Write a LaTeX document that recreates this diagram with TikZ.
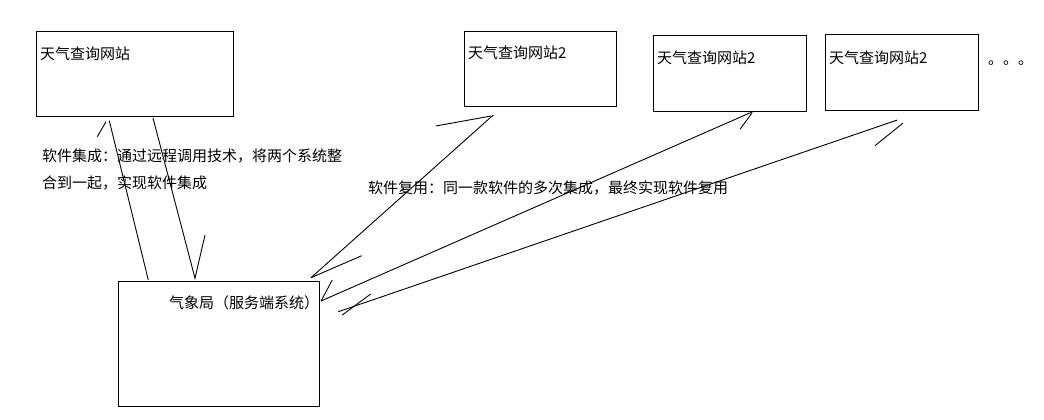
\documentclass[tikz,border=0pt]{standalone}
\usepackage{fontspec}
\newfontfamily\cjk{Noto Sans CJK SC}
\begin{document}
\begin{tikzpicture}[x=1pt,y=-1pt,
  box/.style={draw=black,line width=1pt,rectangle,inner sep=0pt},
  lbl/.style={anchor=west,inner sep=0pt,font=\cjk\fontsize{15}{15}\selectfont,text=black},
  ln/.style={draw=black,line width=0.9pt}]
\useasboundingbox[fill=white] (0,0) rectangle (1044,420);
% boxes
\node[box,minimum width=197pt,minimum height=84pt] (w1) at (134.5,74) {};
\node[box,minimum width=152pt,minimum height=74pt] (w2) at (540,69) {};
\node[box,minimum width=153pt,minimum height=75pt] (w3) at (729.5,73.5) {};
\node[box,minimum width=153pt,minimum height=75pt] (w4) at (901.5,72.5) {};
\node[box,minimum width=201pt,minimum height=125pt] (qx) at (218.5,343.5) {};
% box texts
\node[lbl] (t1) at (40,54) {天气查询网站};
\node[lbl] (t2) at (468,53) {天气查询网站2};
\node[lbl] (t3) at (657,58) {天气查询网站2};
\node[lbl] (t4) at (829,58) {天气查询网站2};
\node[lbl] (tq) at (169,303) {气象局（服务端系统）};
\node[anchor=base west,inner sep=0pt,font=\cjk\fontsize{15}{15}\selectfont] (dots) at (988,65) {。。。};
% labels
\node[lbl] (n1) at (42,156) {软件集成：通过远程调用技术，将两个系统整};
\node[lbl] (n2) at (42,183) {合到一起，实现软件集成};
\node[lbl] (n3) at (368,188) {软件复用：同一款软件的多次集成，最终实现软件复用};
% connector end points
\coordinate (a1s) at (148.3,280);  \coordinate (a1e) at (109.3,120.7);
\coordinate (a1b1) at (106,121.7); \coordinate (a1b2) at (97.3,136.7);
\coordinate (a2s) at (153,118);    \coordinate (a2e) at (195,278.3);
\coordinate (a2b2) at (205,235);
\coordinate (a3s) at (311,277.7);  \coordinate (a3e) at (493.3,115);
\coordinate (a3t1) at (491,116);   \coordinate (a3t2) at (436,126);
\coordinate (a3b2) at (361.7,255.7);
\coordinate (a4s) at (321,301);    \coordinate (a4e) at (752.7,111.7);
\coordinate (a4t1) at (751.7,113.3); \coordinate (a4t2) at (740,129.3);
\coordinate (a4b2) at (332.3,280);
\coordinate (a5s) at (338.3,311.7); \coordinate (a5e) at (897.3,120);
\coordinate (a5t1) at (902.7,123.3); \coordinate (a5t2) at (875,145.7);
\coordinate (a5b1) at (342.3,315);  \coordinate (a5b2) at (370.7,294);
% connectors
\draw[ln] (a1s) -- (a1e);
\draw[ln] (a1b1) -- (a1b2);
\draw[ln] (a2s) -- (a2e) -- (a2b2);
\draw[ln] (a3s) -- (a3e);
\draw[ln] (a3t1) -- (a3t2);
\draw[ln] (a3s) -- (a3b2);
\draw[ln] (a4s) -- (a4e);
\draw[ln] (a4t1) -- (a4t2);
\draw[ln] (a4s) -- (a4b2);
\draw[ln] (a5s) -- (a5e);
\draw[ln] (a5t1) -- (a5t2);
\draw[ln] (a5b1) -- (a5b2);
\end{tikzpicture}
\end{document}
